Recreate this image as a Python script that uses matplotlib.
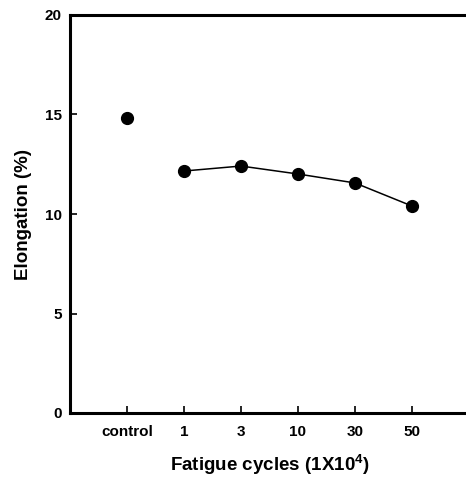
import matplotlib.pyplot as plt

plt.rcParams['font.family'] = ['Liberation Sans', 'DejaVu Sans']
plt.rcParams['font.weight'] = 'bold'
plt.rcParams['axes.labelweight'] = 'bold'
plt.rcParams['mathtext.default'] = 'regular'

# data
categories = ['control', '1', '3', '10', '30', '50']
control_value = 14.82
cycle_values = [12.16, 12.41, 12.01, 11.56, 10.40]

positions = list(range(1, len(categories) + 1))

fig = plt.figure(figsize=(4.66, 4.79), dpi=100)
ax = fig.add_axes([70 / 466, 1 - 413 / 479, 399 / 466, 398 / 479])

ax.plot(positions[0], control_value, 'o', color='black', markersize=8.5)
ax.plot(positions[1:], cycle_values, '-o', color='black', markersize=8.5, linewidth=1.1)

ax.set_xlim(0, 7)
ax.set_ylim(0, 20)
ax.set_xticks(positions)
ax.set_xticklabels(categories)
ax.set_yticks([0, 5, 10, 15, 20])

for side in ['left', 'bottom', 'top']:
    ax.spines[side].set_linewidth(2.2)
ax.spines['right'].set_visible(False)

ax.tick_params(direction='in', length=5, width=1.2, labelsize=11, pad=9)
ax.tick_params(axis='y', pad=6)

ax.set_xlabel('Fatigue cycles (1X10$^4$)', fontsize=13.5, labelpad=10)
ax.set_ylabel('Elongation (%)', fontsize=13.5, labelpad=9)

fig.savefig('out.png', dpi=100)
